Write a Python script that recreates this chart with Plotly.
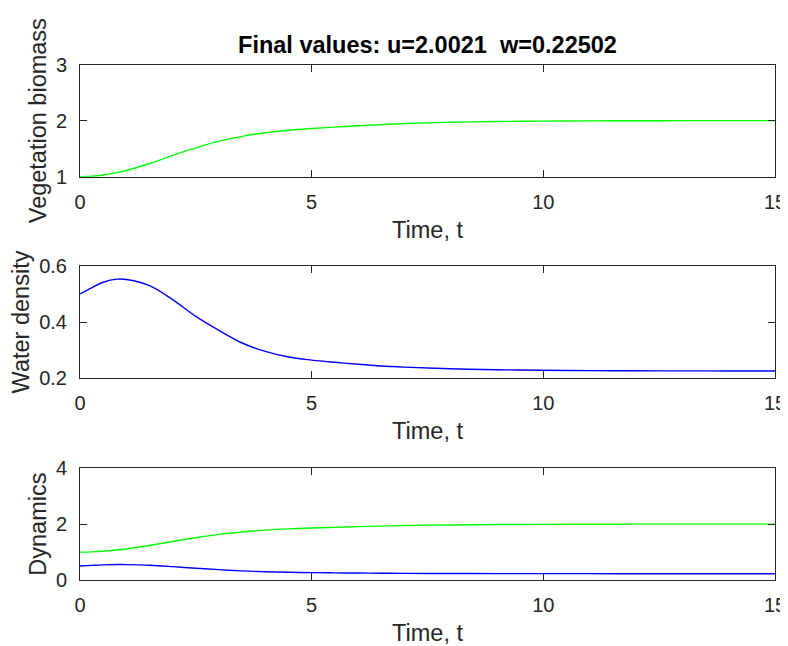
import plotly.graph_objects as go

t = [0, 0.25, 0.5, 0.8, 1, 1.5, 2, 2.5, 3, 3.5, 4, 4.5, 5, 5.5, 6, 6.5, 7, 8, 9, 10, 11, 12, 13, 14, 15]
u = [1.0, 1.008, 1.03, 1.075, 1.11, 1.235, 1.38, 1.515, 1.635, 1.72, 1.785, 1.83, 1.86, 1.885, 1.91, 1.93,
     1.95, 1.972, 1.985, 1.993, 1.997, 1.9995, 2.001, 2.0018, 2.0021]
w = [0.5, 0.522, 0.542, 0.553, 0.552, 0.53, 0.48, 0.42, 0.37, 0.325, 0.295, 0.275, 0.264, 0.256, 0.249,
     0.243, 0.239, 0.233, 0.2295, 0.2275, 0.2265, 0.2258, 0.2254, 0.2252, 0.22502]

title_text = "Final values: u=2.0021  w=0.22502"
xticks = [0, 5, 10, 15]
y1ticks = [1, 2, 3]
y2ticks = [0.2, 0.4, 0.6]
y2labels = ["0.2", "0.4", "0.6"]
y3ticks = [0, 2, 4]

GREEN = "#00ff00"
BLUE = "#0000ff"
AX = "#262626"
FONT = "Liberation Sans, Arial, Helvetica, sans-serif"
TICK_SIZE = 20
LABEL_SIZE = 23.5
TITLE_SIZE = 23.5

# page is 788x646, html body has an 8px margin; figure fills the rest of the window
OFF = 8
W, H = 788 - OFF, 646 - OFF

def px_dom_y(top, bot):
    return [1 - (bot - OFF) / H, 1 - (top - OFF) / H]

xdom = [(80 - OFF) / W, (775 - OFF) / W]

fig = go.Figure()
LW = 1.4
fig.add_trace(go.Scatter(x=t, y=u, mode="lines", line=dict(color=GREEN, width=LW, shape="spline"),
                         xaxis="x", yaxis="y", showlegend=False))
fig.add_trace(go.Scatter(x=t, y=w, mode="lines", line=dict(color=BLUE, width=LW, shape="spline"),
                         xaxis="x2", yaxis="y2", showlegend=False))
fig.add_trace(go.Scatter(x=t, y=u, mode="lines", line=dict(color=GREEN, width=LW, shape="spline"),
                         xaxis="x3", yaxis="y3", showlegend=False))
fig.add_trace(go.Scatter(x=t, y=w, mode="lines", line=dict(color=BLUE, width=LW, shape="spline"),
                         xaxis="x3", yaxis="y3", showlegend=False))

common_axis = dict(showline=True, linecolor=AX, linewidth=1, mirror="ticks", ticks="inside",
                   ticklen=7, tickcolor=AX, tickwidth=1, showgrid=False, zeroline=False,
                   automargin=False, ticklabeloverflow="allow",
                   tickfont=dict(family=FONT, size=TICK_SIZE, color=AX))

def xaxis(anchor):
    return dict(common_axis, domain=xdom, anchor=anchor, range=[0, 15], tickvals=xticks,
                ticklabelstandoff=7,
                title=dict(text="Time, t", font=dict(family=FONT, size=LABEL_SIZE, color=AX), standoff=9))

def yaxis(anchor, dom, rng, tv, tt, title):
    return dict(common_axis, domain=dom, anchor=anchor, range=rng, tickvals=tv, ticktext=tt,
                ticklabelstandoff=8,
                title=dict(text=title, font=dict(family=FONT, size=LABEL_SIZE, color=AX), standoff=2))

fig.update_layout(
    width=W, height=H,
    margin=dict(l=0, r=0, t=0, b=0, autoexpand=False),
    paper_bgcolor="white", plot_bgcolor="white",
    font=dict(family=FONT, color=AX),
    title=dict(text="<b>" + title_text + "</b>", x=(427.5 - OFF) / W, xanchor="center",
               y=1 - (45 - OFF) / H, yanchor="middle", automargin=False,
               font=dict(family=FONT, size=TITLE_SIZE, color="black")),
    xaxis=xaxis("y"),
    yaxis=yaxis("x", px_dom_y(64.7, 176.7), [1, 3], y1ticks, [str(v) for v in y1ticks], "Vegetation biomass"),
    xaxis2=xaxis("y2"),
    yaxis2=yaxis("x2", px_dom_y(266, 378), [0.2, 0.6], y2ticks, y2labels, "Water density"),
    xaxis3=xaxis("y3"),
    yaxis3=yaxis("x3", px_dom_y(468.3, 580), [0, 4], y3ticks, [str(v) for v in y3ticks], "Dynamics"),
)

fig.write_html("out.html")
